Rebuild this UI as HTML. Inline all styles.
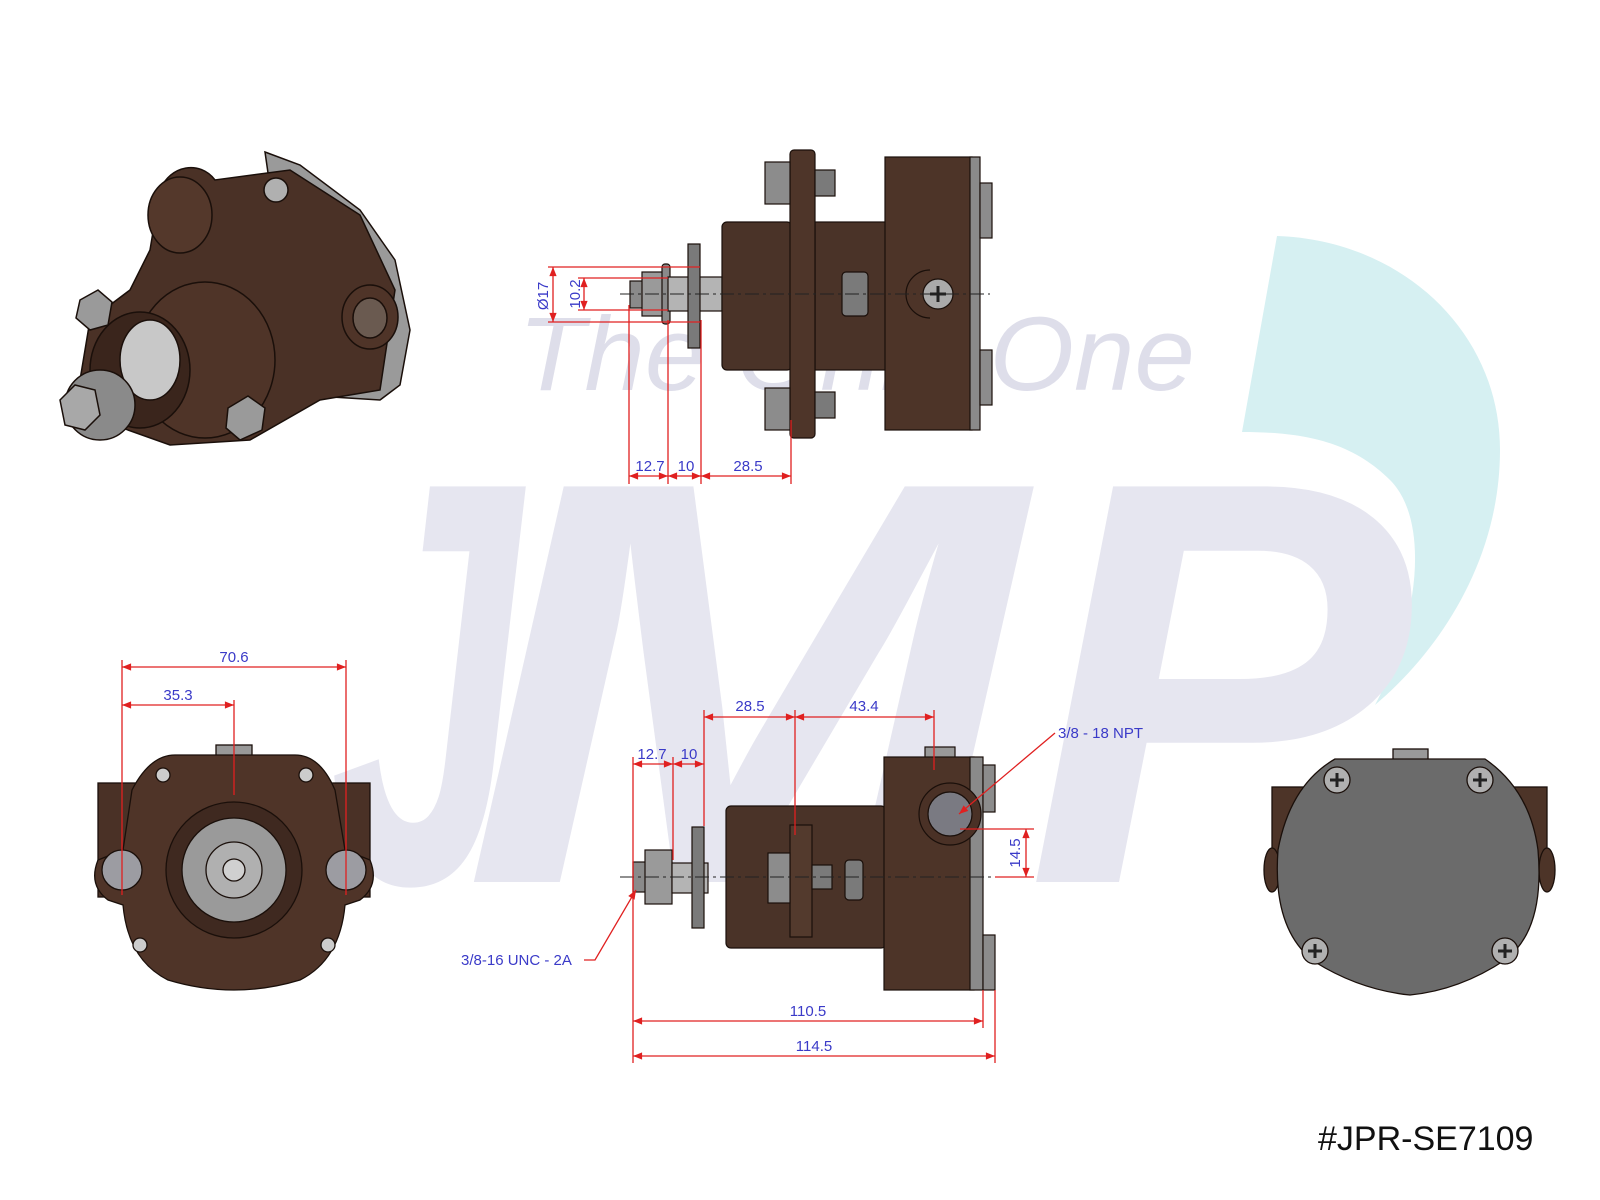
<!DOCTYPE html>
<html><head><meta charset="utf-8"><style>
html,body{margin:0;padding:0;background:#fff;}
svg{display:block;}
text{font-family:"Liberation Sans",sans-serif;}
.d{fill:#3a3ac8;font-size:15px;}
.r{stroke:#e02020;stroke-width:1.3;fill:none;}
</style></head><body>
<svg width="1600" height="1200" viewBox="0 0 1600 1200" xmlns="http://www.w3.org/2000/svg">
<defs>
<marker id="a" viewBox="0 0 10 10" refX="10" refY="5" markerWidth="9" markerHeight="7" orient="auto-start-reverse"><path d="M0,1 L10,5 L0,9 Z" fill="#e02020"/></marker>
</defs>
<!-- watermark -->
<path d="M1277,236 C1400,240 1500,330 1500,450 C1500,560 1440,650 1375,705 C1420,620 1430,520 1390,480 C1350,440 1300,432 1242,432 Z" fill="#d6f0f2"/>
<g font-size="575" font-weight="bold" font-style="italic" fill="#e6e6f0">
<text x="330" y="882" textLength="190" lengthAdjust="spacingAndGlyphs">J</text>
<text x="462" y="882" textLength="560" lengthAdjust="spacingAndGlyphs">M</text>
<text x="1026" y="882" textLength="385" lengthAdjust="spacingAndGlyphs">P</text>
</g>
<text x="518" y="390" font-size="105" font-style="italic" fill="#dedeea" textLength="677" lengthAdjust="spacingAndGlyphs">The Only One</text>

<!-- ISO view -->
<g stroke="#1a0f0a" stroke-width="1.5">
<path d="M265,152 L300,165 L360,210 L395,260 L410,330 L400,385 L380,400 L300,395 Z" fill="#9a9a9a"/>
<path d="M160,190 C170,165 200,160 215,180 L290,170 L360,215 L395,290 L380,390 L320,400 L250,440 L170,445 L100,420 L80,380 L90,320 L130,290 L150,250 Z" fill="#4a3126"/>
<ellipse cx="180" cy="215" rx="32" ry="38" fill="#54382b"/>
<ellipse cx="205" cy="360" rx="70" ry="78" fill="#4f3428"/>
<ellipse cx="140" cy="370" rx="50" ry="58" fill="#3a251c"/>
<ellipse cx="150" cy="360" rx="30" ry="40" fill="#c8c8c8"/>
<circle cx="100" cy="405" r="35" fill="#8a8a8a"/>
<polygon points="60,400 75,385 95,390 100,415 85,430 65,425" fill="#a8a8a8"/>
<ellipse cx="370" cy="317" rx="28" ry="32" fill="#4f3428"/>
<ellipse cx="370" cy="318" rx="17" ry="20" fill="#6a5a50"/>
<polygon points="80,300 98,290 112,302 108,325 90,330 76,318" fill="#9a9a9a"/>
<polygon points="228,408 248,396 265,408 262,430 240,440 226,428" fill="#9a9a9a"/>
<circle cx="276" cy="190" r="12" fill="#b0b0b0"/>
</g>

<!-- TOP SIDE VIEW -->
<g stroke="#1a0f0a" stroke-width="1.2">
<rect x="630" y="281" width="15" height="27" fill="#8a8a8a"/>
<rect x="642" y="272" width="26" height="44" fill="#9a9a9a"/>
<rect x="662" y="264" width="8" height="60" rx="3" fill="#8a8a8a"/>
<rect x="668" y="277" width="54" height="34" fill="#b4b4b4"/>
<rect x="688" y="244" width="12" height="104" fill="#7a7a7a"/>
<rect x="722" y="222" width="70" height="148" rx="5" fill="#4a3328"/>
<rect x="815" y="222" width="72" height="148" fill="#4a3328"/>
<rect x="790" y="150" width="25" height="288" rx="4" fill="#4e3529"/>
<rect x="885" y="157" width="87" height="273" fill="#4d3428"/>
<rect x="970" y="157" width="10" height="273" fill="#8a8a8a"/>
<rect x="765" y="162" width="25" height="42" fill="#8c8c8c"/>
<rect x="765" y="388" width="25" height="42" fill="#8c8c8c"/>
<rect x="815" y="170" width="20" height="26" fill="#7a7a7a"/>
<rect x="815" y="392" width="20" height="26" fill="#7a7a7a"/>
<rect x="980" y="183" width="12" height="55" fill="#8c8c8c"/>
<rect x="980" y="350" width="12" height="55" fill="#8c8c8c"/>
<rect x="842" y="272" width="26" height="44" rx="4" fill="#7a7a7a"/>
<path d="M930,270 a24,24 0 0 0 0,48" fill="none"/>
<circle cx="938" cy="294" r="15" fill="#aaaaaa"/>
<path d="M930,294 h16 M938,286 v16" stroke="#222" stroke-width="3"/>
</g>
<line x1="620" y1="294" x2="990" y2="294" stroke="#222" stroke-width="1" stroke-dasharray="14,4,3,4"/>
<!-- top dims -->
<g class="r">
<line x1="548" y1="267" x2="700" y2="267"/><line x1="548" y1="322" x2="700" y2="322"/>
<line x1="578" y1="278" x2="668" y2="278"/><line x1="578" y1="310" x2="668" y2="310"/>
<line x1="553" y1="267" x2="553" y2="322" marker-start="url(#a)" marker-end="url(#a)"/>
<line x1="584" y1="278" x2="584" y2="310" marker-start="url(#a)" marker-end="url(#a)"/>
<line x1="629" y1="305" x2="629" y2="484"/><line x1="668" y1="320" x2="668" y2="484"/>
<line x1="701" y1="320" x2="701" y2="484"/><line x1="791" y1="420" x2="791" y2="484"/>
<line x1="629" y1="476" x2="668" y2="476" marker-start="url(#a)" marker-end="url(#a)"/>
<line x1="668" y1="476" x2="701" y2="476" marker-start="url(#a)" marker-end="url(#a)"/>
<line x1="701" y1="476" x2="791" y2="476" marker-start="url(#a)" marker-end="url(#a)"/>
</g>
<text class="d" transform="translate(548,296) rotate(-90)" text-anchor="middle">Ø17</text>
<text class="d" transform="translate(580,294) rotate(-90)" text-anchor="middle">10.2</text>
<text class="d" x="650" y="471" text-anchor="middle">12.7</text>
<text class="d" x="686" y="471" text-anchor="middle">10</text>
<text class="d" x="748" y="471" text-anchor="middle">28.5</text>

<!-- FRONT VIEW (bottom left) -->
<g stroke="#1a0f0a" stroke-width="1.3">
<rect x="216" y="745" width="36" height="12" fill="#999"/>
<rect x="98" y="783" width="272" height="114" fill="#4a3126"/>
<path d="M132,790 Q150,755 175,755 L295,755 Q320,755 335,790 L345,850 L370,860 Q380,885 360,900 L345,905 Q340,960 300,980 Q234,1000 168,980 Q128,960 123,905 L108,900 Q88,885 98,860 L123,850 Z" fill="#4f3428"/>
<circle cx="234" cy="870" r="68" fill="#3f2920"/>
<circle cx="234" cy="870" r="52" fill="#9a9a9a"/>
<circle cx="234" cy="870" r="28" fill="#b0b0b0"/>
<circle cx="234" cy="870" r="11" fill="#d0d0d0"/>
<circle cx="122" cy="870" r="20" fill="#9c9ca2"/>
<circle cx="346" cy="870" r="20" fill="#9c9ca2"/>
<circle cx="163" cy="775" r="7" fill="#ccc"/><circle cx="306" cy="775" r="7" fill="#ccc"/>
<circle cx="140" cy="945" r="7" fill="#ccc"/><circle cx="328" cy="945" r="7" fill="#ccc"/>
</g>
<g class="r">
<line x1="122" y1="660" x2="122" y2="895"/><line x1="346" y1="660" x2="346" y2="895"/>
<line x1="234" y1="700" x2="234" y2="795"/>
<line x1="122" y1="667" x2="346" y2="667" marker-start="url(#a)" marker-end="url(#a)"/>
<line x1="122" y1="705" x2="234" y2="705" marker-start="url(#a)" marker-end="url(#a)"/>
</g>
<text class="d" x="234" y="662" text-anchor="middle">70.6</text>
<text class="d" x="178" y="700" text-anchor="middle">35.3</text>

<!-- BOTTOM SIDE VIEW -->
<g stroke="#1a0f0a" stroke-width="1.2">
<rect x="925" y="747" width="30" height="12" fill="#999"/>
<rect x="633" y="862" width="17" height="30" fill="#8a8a8a"/>
<rect x="645" y="850" width="27" height="54" fill="#9a9a9a"/>
<rect x="672" y="863" width="36" height="30" fill="#b4b4b4"/>
<rect x="692" y="827" width="12" height="101" fill="#7a7a7a"/>
<rect x="726" y="806" width="160" height="142" rx="5" fill="#4a3328"/>
<rect x="790" y="825" width="22" height="112" fill="#533a2d"/>
<rect x="768" y="853" width="22" height="50" fill="#8c8c8c"/>
<rect x="812" y="865" width="20" height="24" fill="#7a7a7a"/>
<rect x="845" y="860" width="18" height="40" rx="4" fill="#7a7a7a"/>
<rect x="884" y="757" width="90" height="233" fill="#4d3428"/>
<rect x="970" y="757" width="13" height="233" fill="#8a8a8a"/>
<rect x="983" y="765" width="12" height="47" fill="#8c8c8c"/>
<rect x="983" y="935" width="12" height="55" fill="#8c8c8c"/>
<circle cx="950" cy="814" r="31" fill="#4a3126"/>
<circle cx="950" cy="814" r="22" fill="#7a7a82"/>
</g>
<line x1="620" y1="877" x2="995" y2="877" stroke="#222" stroke-width="1" stroke-dasharray="14,4,3,4"/>
<g class="r">
<line x1="704" y1="710" x2="704" y2="826"/><line x1="795" y1="710" x2="795" y2="835"/><line x1="934" y1="710" x2="934" y2="770"/>
<line x1="704" y1="717" x2="795" y2="717" marker-start="url(#a)" marker-end="url(#a)"/>
<line x1="795" y1="717" x2="934" y2="717" marker-start="url(#a)" marker-end="url(#a)"/>
<line x1="633" y1="757" x2="633" y2="1063"/><line x1="673" y1="757" x2="673" y2="860"/>
<line x1="633" y1="764" x2="673" y2="764" marker-start="url(#a)" marker-end="url(#a)"/>
<line x1="673" y1="764" x2="704" y2="764" marker-start="url(#a)" marker-end="url(#a)"/>
<line x1="983" y1="990" x2="983" y2="1028"/><line x1="995" y1="990" x2="995" y2="1063"/>
<line x1="633" y1="1021" x2="983" y2="1021" marker-start="url(#a)" marker-end="url(#a)"/>
<line x1="633" y1="1056" x2="995" y2="1056" marker-start="url(#a)" marker-end="url(#a)"/>
<line x1="960" y1="829" x2="1034" y2="829"/><line x1="995" y1="877" x2="1034" y2="877"/>
<line x1="1026" y1="829" x2="1026" y2="877" marker-start="url(#a)" marker-end="url(#a)"/>
<line x1="1055" y1="733" x2="959" y2="814" marker-end="url(#a)"/>
<path d="M584,960 L595,960 L636,890" marker-end="url(#a)"/>
</g>
<text class="d" x="750" y="711" text-anchor="middle">28.5</text>
<text class="d" x="864" y="711" text-anchor="middle">43.4</text>
<text class="d" x="652" y="759" text-anchor="middle">12.7</text>
<text class="d" x="689" y="759" text-anchor="middle">10</text>
<text class="d" x="808" y="1016" text-anchor="middle">110.5</text>
<text class="d" x="814" y="1051" text-anchor="middle">114.5</text>
<text class="d" transform="translate(1020,853) rotate(-90)" text-anchor="middle">14.5</text>
<text class="d" x="1058" y="738">3/8 - 18 NPT</text>
<text class="d" x="461" y="965">3/8-16 UNC - 2A</text>

<!-- BACK VIEW (right) -->
<g stroke="#1a0f0a" stroke-width="1.3">
<rect x="1393" y="749" width="35" height="12" fill="#999"/>
<rect x="1272" y="787" width="275" height="83" fill="#4d3428"/>
<ellipse cx="1272" cy="870" rx="8" ry="22" fill="#4d3428"/>
<ellipse cx="1547" cy="870" rx="8" ry="22" fill="#4d3428"/>
<path d="M1335,759 L1485,759 Q1530,790 1538,850 Q1545,930 1505,960 Q1460,990 1410,995 Q1360,990 1315,962 Q1272,930 1278,850 Q1290,785 1335,759 Z" fill="#6b6b6b"/>
<g fill="#b0b0b0"><circle cx="1337" cy="780" r="13"/><circle cx="1480" cy="780" r="13"/><circle cx="1315" cy="951" r="13"/><circle cx="1505" cy="951" r="13"/></g>
<path d="M1330,780h14M1337,773v14M1473,780h14M1480,773v14M1308,951h14M1315,944v14M1498,951h14M1505,944v14" stroke="#222" stroke-width="3"/>
</g>

<text x="1318" y="1150" font-size="34" fill="#111">#JPR-SE7109</text>
</svg>
</body></html>
